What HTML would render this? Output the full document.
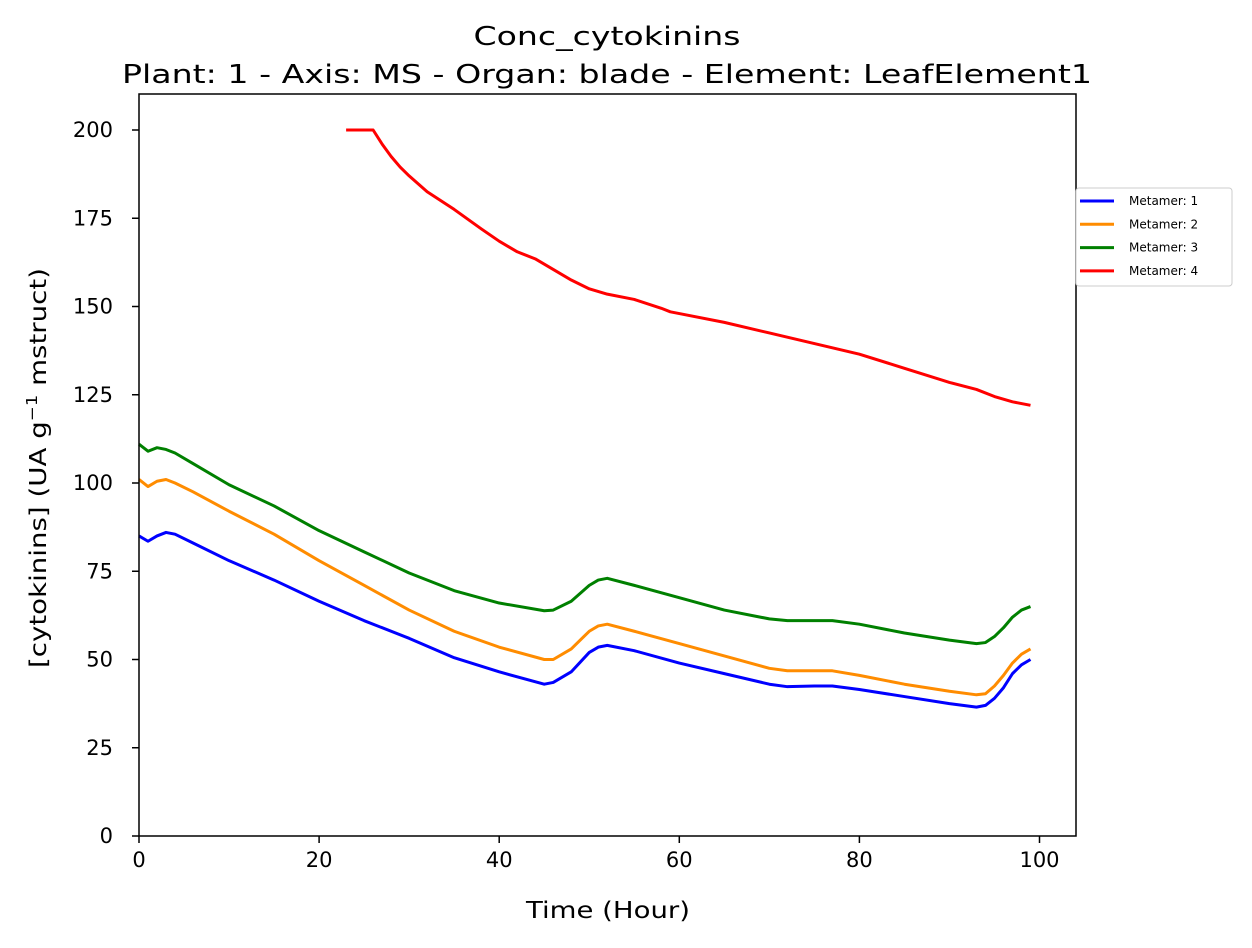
<!DOCTYPE html>
<html><head><meta charset="utf-8"><style>
body{margin:0;background:#fff;font-family:"Liberation Sans","DejaVu Sans",sans-serif;}
svg text{font-family:"DejaVu Sans","Liberation Sans",sans-serif;}
</style></head><body>
<svg id="chart" width="1252" height="943" viewBox="0 0 1252 943" xmlns="http://www.w3.org/2000/svg">
<rect width="1252" height="943" fill="#fff"/>
<text x="607" y="45" text-anchor="middle" font-size="26" textLength="267" lengthAdjust="spacingAndGlyphs">Conc_cytokinins</text>
<text x="607" y="83" text-anchor="middle" font-size="26" textLength="970" lengthAdjust="spacingAndGlyphs">Plant: 1 - Axis: MS - Organ: blade - Element: LeafElement1</text>
<g id="plot"></g>
<rect x="139" y="94" width="937" height="742" fill="none" stroke="#000" stroke-width="1.5"/>
<text x="608" y="918" text-anchor="middle" font-size="23" textLength="164" lengthAdjust="spacingAndGlyphs">Time (Hour)</text>
<text transform="translate(46,468) rotate(-90)" text-anchor="middle" font-size="23" textLength="400" lengthAdjust="spacingAndGlyphs">[cytokinins] (UA g<tspan baseline-shift="super" font-size="15">−1</tspan> mstruct)</text>
<g>
<rect x="1076" y="188" width="156" height="98" fill="#fff" stroke="#ccc" rx="3"/>
</g>
</svg>
<script>
const xTicks=[0,20,40,60,80,100];
const yTicks=[0,25,50,75,100,125,150,175,200];
const seriesNames=["Metamer: 1","Metamer: 2","Metamer: 3","Metamer: 4"];
const colors=["#0000ff","#ff8c00","#008000","#ff0000"];
const t1=[0,1,2,3,4,6,10,15,20,25,30,35,40,45,46,48,50,51,52,55,60,65,70,72,75,77,80,85,90,93,94,95,96,97,98,99];
const m1=[85,83.5,85,86,85.5,83,78,72.5,66.5,61,56,50.5,46.5,43,43.5,46.5,52,53.5,54,52.5,49,46,43,42.3,42.5,42.5,41.5,39.5,37.5,36.5,37,39,42,46,48.5,50];
const m2=[101,99,100.5,101,100,97.5,92,85.5,78,71,64,58,53.5,50,50,53,58,59.5,60,58,54.5,51,47.5,46.8,46.8,46.8,45.5,43,41,40,40.3,42.5,45.5,49,51.5,53];
const m3=[111,109,110,109.5,108.5,105.5,99.5,93.5,86.5,80.5,74.5,69.5,66,63.8,64,66.5,71,72.5,73,71,67.5,64,61.5,61,61,61,60,57.5,55.5,54.5,54.8,56.5,59,62,64,65];
const t4=[23,26,27,28,29,30,32,35,38,40,42,44,46,48,50,52,55,58,59,60,65,70,75,80,85,90,93,95,97,99];
const m4=[200,200,196,192.5,189.5,187,182.5,177.5,172,168.5,165.5,163.5,160.5,157.5,155,153.5,152,149.5,148.5,148,145.5,142.5,139.5,136.5,132.5,128.5,126.5,124.5,123,122];
const X=v=>139+v*9.005, Y=v=>836-v*3.53;
const NS="http://www.w3.org/2000/svg";
const svg=document.getElementById("chart");
const g=document.getElementById("plot");
function mk(tag,attrs,parent){const e=document.createElementNS(NS,tag);for(const k in attrs)e.setAttribute(k,attrs[k]);(parent||svg).appendChild(e);return e;}
xTicks.forEach(v=>{
 const l=mk("line",{x1:X(v),x2:X(v),y1:836,y2:843,stroke:"#000","stroke-width":1.5});
 
 
 const t=mk("text",{x:X(v),y:867,"text-anchor":"middle","font-size":21});t.textContent=v;
 
 
});
yTicks.forEach(v=>{
 const l=mk("line",{x1:132,x2:139,y1:Y(v),y2:Y(v),stroke:"#000","stroke-width":1.5});
 
 
 const t=mk("text",{x:113,y:Y(v)+7,"text-anchor":"end","font-size":21});t.textContent=v;
 
 
});
const data=[[t1,m1],[t1,m2],[t1,m3],[t4,m4]];
data.forEach((d,i)=>{
 const p=mk("polyline",{points:d[0].map((t,j)=>X(t)+","+Y(d[1][j])).join(" "),fill:"none",stroke:colors[i],"stroke-width":3,"stroke-linejoin":"round"},g);
 
 
 const y=201+i*23.3;
 const l=mk("line",{x1:1080,x2:1114,y1:y,y2:y,stroke:colors[i],"stroke-width":3});
 
 
 const t=mk("text",{x:1129,y:y+4,"font-size":12});t.textContent=seriesNames[i];
 
 
});
</script>
</body></html>
